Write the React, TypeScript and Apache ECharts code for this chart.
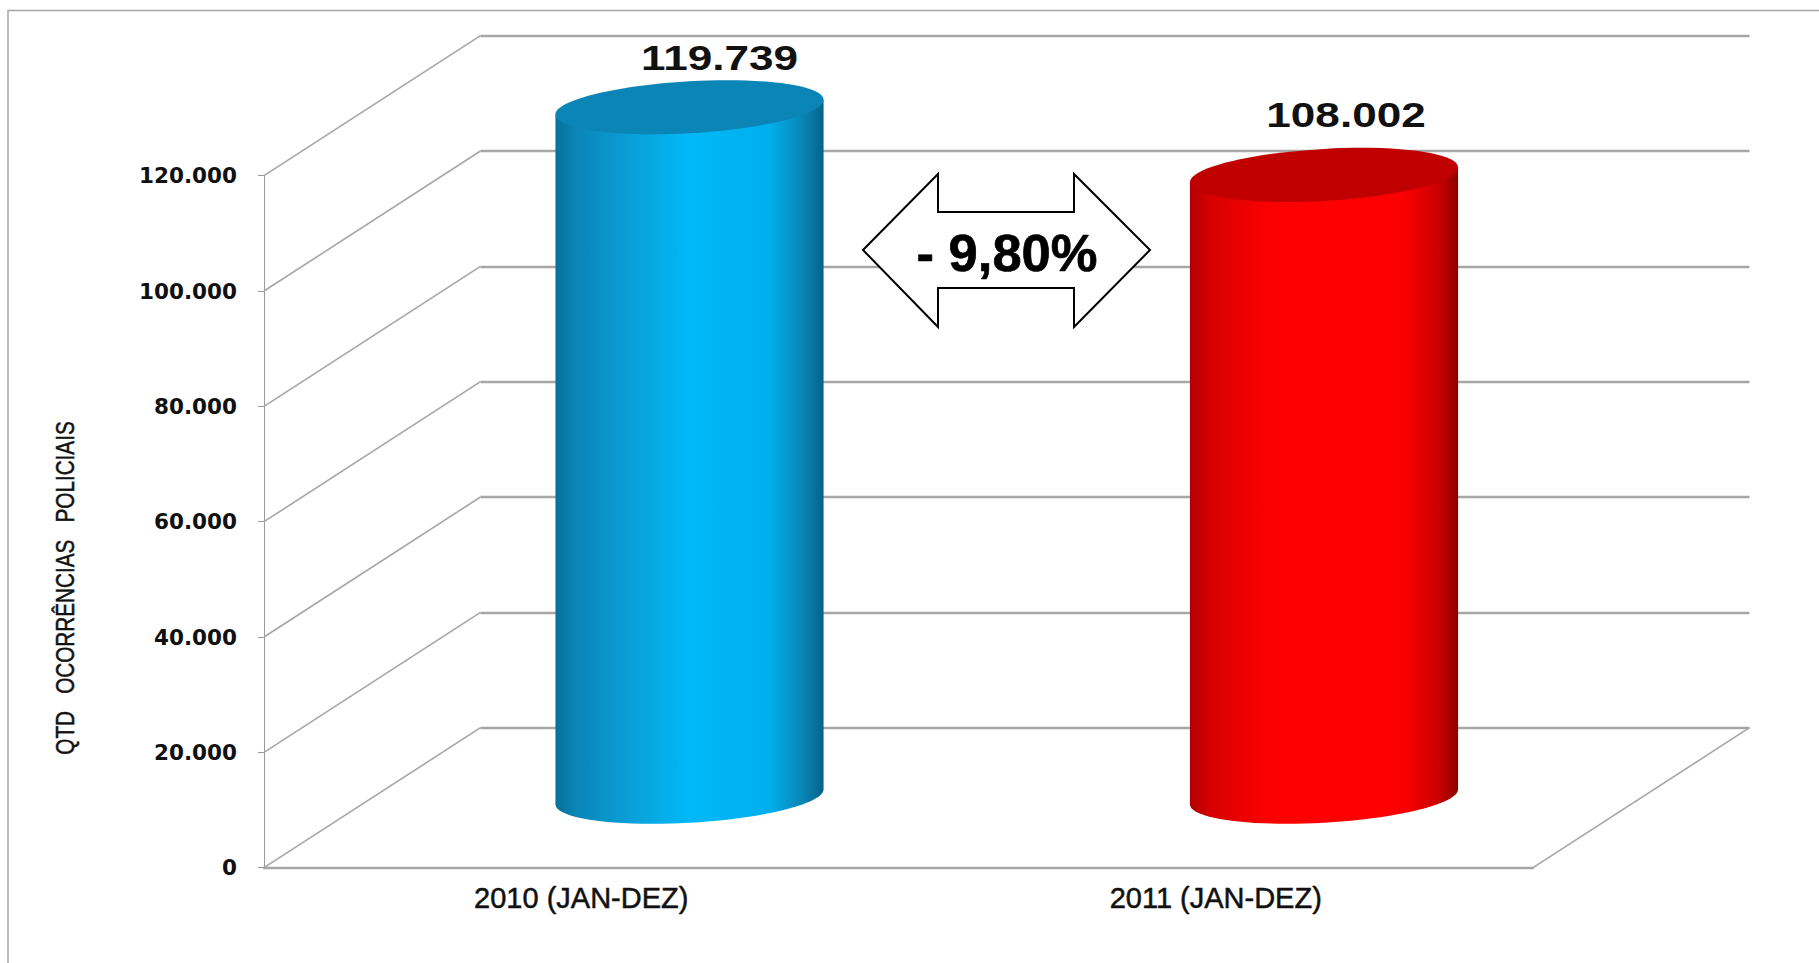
import React, { useEffect, useRef } from "react";
import * as echarts from "echarts";

const categories = ["2010 (JAN-DEZ)", "2011 (JAN-DEZ)"];
const seriesValues = [119739, 108002];
const yTicks = [0, 20000, 40000, 60000, 80000, 100000, 120000];
const axisTitle = "QTD   OCORRÊNCIAS   POLICIAIS";
const changeLabel = "- 9,80%";

const bodyStops = [
  ["#08709a", "#0a86b8", "#0a9fd8", "#00b9f8", "#00aeec", "#0a82b0", "#06628a"],
  ["#b00000", "#d80000", "#fa0000", "#ff0000", "#fb0000", "#c80000", "#8c0000"],
];
const capColors = ["#0a85b6", "#c00000"];
const stopOffsets = [0, 0.08, 0.28, 0.5, 0.8, 0.93, 1];
const labelOffsets = [
  [30, -50],
  [22, -60],
];

const DEPTH_X = 216.5;
const DEPTH_Y = 140;
const LEFT = 264;
const WIDTH = 1269;
const TOP = 175.7;
const HEIGHT = 692;
const GRID_COLOR = "#a6a6a6";

const fmt = (n: number) => String(n).replace(/\B(?=(\d{3})+$)/g, ".");
const KC = 0.5523;

function cylinderItem(params: any, api: any) {
  const idx = api.value(0);
  const val = api.value(1);
  const top = api.coord([idx, val]);
  const base = api.coord([idx, 0]);
  const a = api.size([1, 0])[0] * 0.2113;
  const k = 7.5;
  const m = 26;
  const cx = top[0] + DEPTH_X / 2;
  const tcy = top[1] - DEPTH_Y / 2;
  const bcy = base[1] - DEPTH_Y / 2 - 1;
  const P = (cy: number, u: number, v: number) =>
    `${(cx + a * u).toFixed(2)} ${(cy - k * u + m * v).toFixed(2)}`;
  const body =
    `M${P(tcy, 1, 0)} L${P(bcy, 1, 0)} ` +
    `C${P(bcy, 1, KC)} ${P(bcy, KC, 1)} ${P(bcy, 0, 1)} ` +
    `C${P(bcy, -KC, 1)} ${P(bcy, -1, KC)} ${P(bcy, -1, 0)} ` +
    `L${P(tcy, -1, 0)} Z`;
  const cap =
    `M${P(tcy, 1, 0)} ` +
    `C${P(tcy, 1, KC)} ${P(tcy, KC, 1)} ${P(tcy, 0, 1)} ` +
    `C${P(tcy, -KC, 1)} ${P(tcy, -1, KC)} ${P(tcy, -1, 0)} ` +
    `C${P(tcy, -1, -KC)} ${P(tcy, -KC, -1)} ${P(tcy, 0, -1)} ` +
    `C${P(tcy, KC, -1)} ${P(tcy, 1, -KC)} ${P(tcy, 1, 0)} Z`;
  const stops = bodyStops[idx].map((color, i) => ({ offset: stopOffsets[i], color }));
  return {
    type: "group",
    children: [
      {
        type: "path",
        shape: { pathData: body },
        style: { fill: new echarts.graphic.LinearGradient(0, 0, 1, 0, stops) },
      },
      { type: "path", shape: { pathData: cap }, style: { fill: capColors[idx] } },
      {
        type: "text",
        x: cx + labelOffsets[idx][0],
        y: tcy + labelOffsets[idx][1],
        scaleX: 1.26,
        style: {
          text: fmt(val),
          fontFamily: "Liberation Sans",
          fontWeight: "bold",
          fontSize: 35,
          fill: "#111111",
          align: "center",
          verticalAlign: "middle",
        },
      },
    ],
  };
}

function diagonalItem(params: any, api: any) {
  const p = api.coord([0, api.value(0)]);
  const x0 = params.coordSys.x;
  return {
    type: "line",
    shape: { x1: x0, y1: p[1], x2: x0 + DEPTH_X, y2: p[1] - DEPTH_Y },
    style: { stroke: GRID_COLOR, lineWidth: 1.6 },
  };
}

function floorEdgeItem(params: any, api: any) {
  const p = api.coord([0, api.value(0)]);
  const x1 = params.coordSys.x + params.coordSys.width;
  return {
    type: "line",
    shape: { x1, y1: p[1], x2: x1 + DEPTH_X, y2: p[1] - DEPTH_Y },
    style: { stroke: GRID_COLOR, lineWidth: 1.6 },
  };
}

export default function App() {
  const ref = useRef<HTMLDivElement | null>(null);
  useEffect(() => {
    const chart = echarts.init(ref.current as HTMLDivElement, null, { renderer: "svg" });
    const tipL = 863, nL = 938, nR = 1074, tipR = 1150;
    const yT = 174, yS1 = 212, yM = 250, yS2 = 288, yB = 327;
    chart.setOption({
      animation: false,
      backgroundColor: "#ffffff",
      grid: [
        { left: LEFT, top: TOP, width: WIDTH, height: HEIGHT, outerBoundsMode: "none" },
        {
          left: LEFT + DEPTH_X,
          top: TOP - DEPTH_Y,
          width: WIDTH,
          height: HEIGHT,
          outerBoundsMode: "none",
        },
      ],
      xAxis: [
        {
          type: "category",
          gridIndex: 0,
          data: categories,
          axisLine: { lineStyle: { color: GRID_COLOR, width: 2.4 } },
          axisTick: { length: 12, lineStyle: { color: "#9a9a9a", width: 1 } },
          axisLabel: {
            margin: 16,
            fontFamily: "Liberation Sans",
            fontSize: 29,
            color: "#111111",
            textBorderColor: "#111111",
            textBorderWidth: 0.5,
          },
        },
        {
          type: "category",
          gridIndex: 1,
          data: categories,
          axisLine: { show: false },
          axisTick: { show: false },
          axisLabel: { show: false },
        },
      ],
      yAxis: [
        {
          type: "value",
          gridIndex: 0,
          min: 0,
          max: 120000,
          interval: 20000,
          axisLine: { show: true, lineStyle: { color: "#9a9a9a", width: 1 } },
          axisTick: { show: true, length: 6, lineStyle: { color: "#9a9a9a", width: 1 } },
          splitLine: { show: false },
          axisLabel: {
            margin: 27,
            formatter: (v: number) => fmt(v),
            fontFamily: "DejaVu Sans",
            fontWeight: "bold",
            fontSize: 21.5,
            color: "#111111",
          },
        },
        {
          type: "value",
          gridIndex: 1,
          min: 0,
          max: 120000,
          interval: 20000,
          axisLine: { show: false },
          axisTick: { show: false },
          axisLabel: { show: false },
          splitLine: { show: true, lineStyle: { color: GRID_COLOR, width: 2.4 } },
        },
      ],
      series: [
        {
          type: "custom",
          xAxisIndex: 0,
          yAxisIndex: 0,
          renderItem: diagonalItem,
          data: yTicks.map((v) => [v]),
          encode: { y: 0 },
          z: 1,
          silent: true,
        },
        {
          type: "custom",
          xAxisIndex: 0,
          yAxisIndex: 0,
          renderItem: floorEdgeItem,
          data: [[yTicks[0]]],
          encode: { y: 0 },
          z: 1,
          silent: true,
        },
        {
          type: "custom",
          xAxisIndex: 0,
          yAxisIndex: 0,
          renderItem: cylinderItem,
          data: seriesValues.map((v, i) => [i, v]),
          encode: { x: 0, y: 1 },
          z: 5,
          silent: true,
        },
      ],
      graphic: [
        {
          type: "polyline",
          z: 20,
          shape: { points: [[8, 963], [8, 10.5], [1819, 10.5]] },
          style: { stroke: "#a6a6a6", lineWidth: 1.5, fill: "none" },
        },
        {
          type: "polygon",
          z: 20,
          shape: {
            points: [
              [tipL, yM], [nL, yT], [nL, yS1], [nR, yS1], [nR, yT], [tipR, yM],
              [nR, yB], [nR, yS2], [nL, yS2], [nL, yB],
            ],
          },
          style: { fill: "#ffffff", stroke: "#000000", lineWidth: 2 },
        },
        {
          type: "text",
          z: 21,
          x: 1007,
          y: 252,
          style: {
            text: changeLabel,
            fontFamily: "Liberation Sans",
            fontWeight: "bold",
            fontSize: 52.5,
            fill: "#000000",
            stroke: "#000000",
            lineWidth: 0.7,
            align: "center",
            verticalAlign: "middle",
          },
        },
        {
          type: "text",
          z: 20,
          x: 65,
          y: 588,
          rotation: Math.PI / 2,
          scaleY: 1.25,
          style: {
            text: axisTitle,
            fontFamily: "Liberation Sans",
            fontSize: 20.7,
            fill: "#111111",
            stroke: "#111111",
            lineWidth: 0.4,
            align: "center",
            verticalAlign: "middle",
          },
        },
      ],
    });
    return () => chart.dispose();
  }, []);
  return (
    <div
      ref={ref}
      style={{ position: "absolute", left: 0, top: 0, width: 1819, height: 963 }}
    />
  );
}
